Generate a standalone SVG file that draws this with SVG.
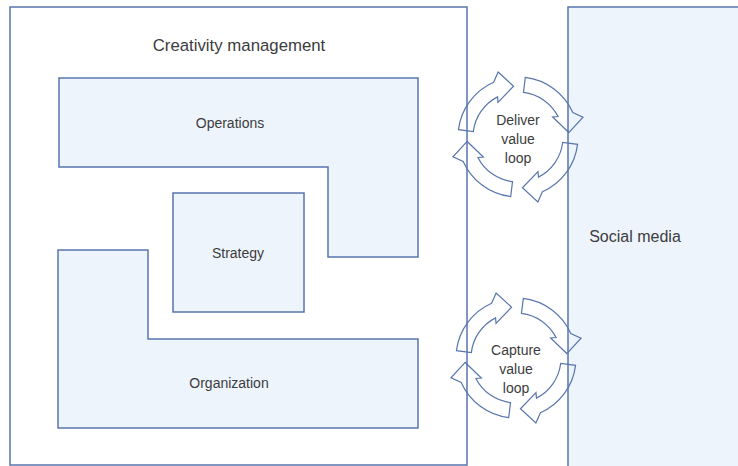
<svg xmlns="http://www.w3.org/2000/svg" xmlns:xlink="http://www.w3.org/1999/xlink" width="738" height="466" viewBox="0 0 738 466">
<style>
.box{fill:#ffffff;stroke:#5876ad;stroke-width:1.5}
.shape{fill:#eef4fc;stroke:#5876ad;stroke-width:1.5}
.arr{fill:none;stroke:#5876ad;stroke-width:1.2;stroke-linejoin:miter}
text{font-family:"Liberation Sans",Arial,sans-serif;fill:#3c3c3c;text-anchor:middle}
.t14{font-size:14px}
.t17{font-size:16.8px}
.t16{font-size:16px}
</style>
<defs>
<path id="carrow" d="M7.31,-59.55 A60,60 0 0 1 54.81,-24.40 L65.03,-19.88 L50.81,-4.45 L34.64,-20 L40.10,-20.43 A45,45 0 0 0 5.48,-44.66 Z"/>
</defs>
<rect width="738" height="466" fill="#ffffff"/>
<g id="creativity-management">
<rect class="box" x="10" y="7" width="457" height="458"/>
<text class="t17" x="239" y="51">Creativity management</text>
</g>
<g id="social-media">
<rect class="shape" x="568" y="7" width="175" height="462"/>
<text class="t16" x="635" y="242">Social media</text>
</g>
<g id="operations">
<path class="shape" d="M59,78 H418 V257 H328 V167 H59 Z"/>
<text class="t14" x="230" y="128">Operations</text>
</g>
<g id="strategy">
<rect class="shape" x="173" y="193" width="131" height="119"/>
<text class="t14" x="238" y="258">Strategy</text>
</g>
<g id="organization">
<path class="shape" d="M58,250 H148 V339 H418 V428 H58 Z"/>
<text class="t14" x="229" y="388">Organization</text>
</g>
<g id="connectors">
<g id="deliver-loop" transform="translate(518,137)">
<use xlink:href="#carrow" href="#carrow" class="arr"/>
<use xlink:href="#carrow" href="#carrow" class="arr" transform="rotate(90)"/>
<use xlink:href="#carrow" href="#carrow" class="arr" transform="rotate(180)"/>
<use xlink:href="#carrow" href="#carrow" class="arr" transform="rotate(270)"/>
</g>
<g id="capture-loop" transform="translate(516,358)">
<use xlink:href="#carrow" href="#carrow" class="arr"/>
<use xlink:href="#carrow" href="#carrow" class="arr" transform="rotate(90)"/>
<use xlink:href="#carrow" href="#carrow" class="arr" transform="rotate(180)"/>
<use xlink:href="#carrow" href="#carrow" class="arr" transform="rotate(270)"/>
</g>
</g>
<g id="deliver-label">
<text class="t14" x="518" y="125">Deliver</text>
<text class="t14" x="518" y="144">value</text>
<text class="t14" x="518" y="163">loop</text>
</g>
<g id="capture-label">
<text class="t14" x="516" y="355">Capture</text>
<text class="t14" x="516" y="374">value</text>
<text class="t14" x="516" y="393">loop</text>
</g>
</svg>
